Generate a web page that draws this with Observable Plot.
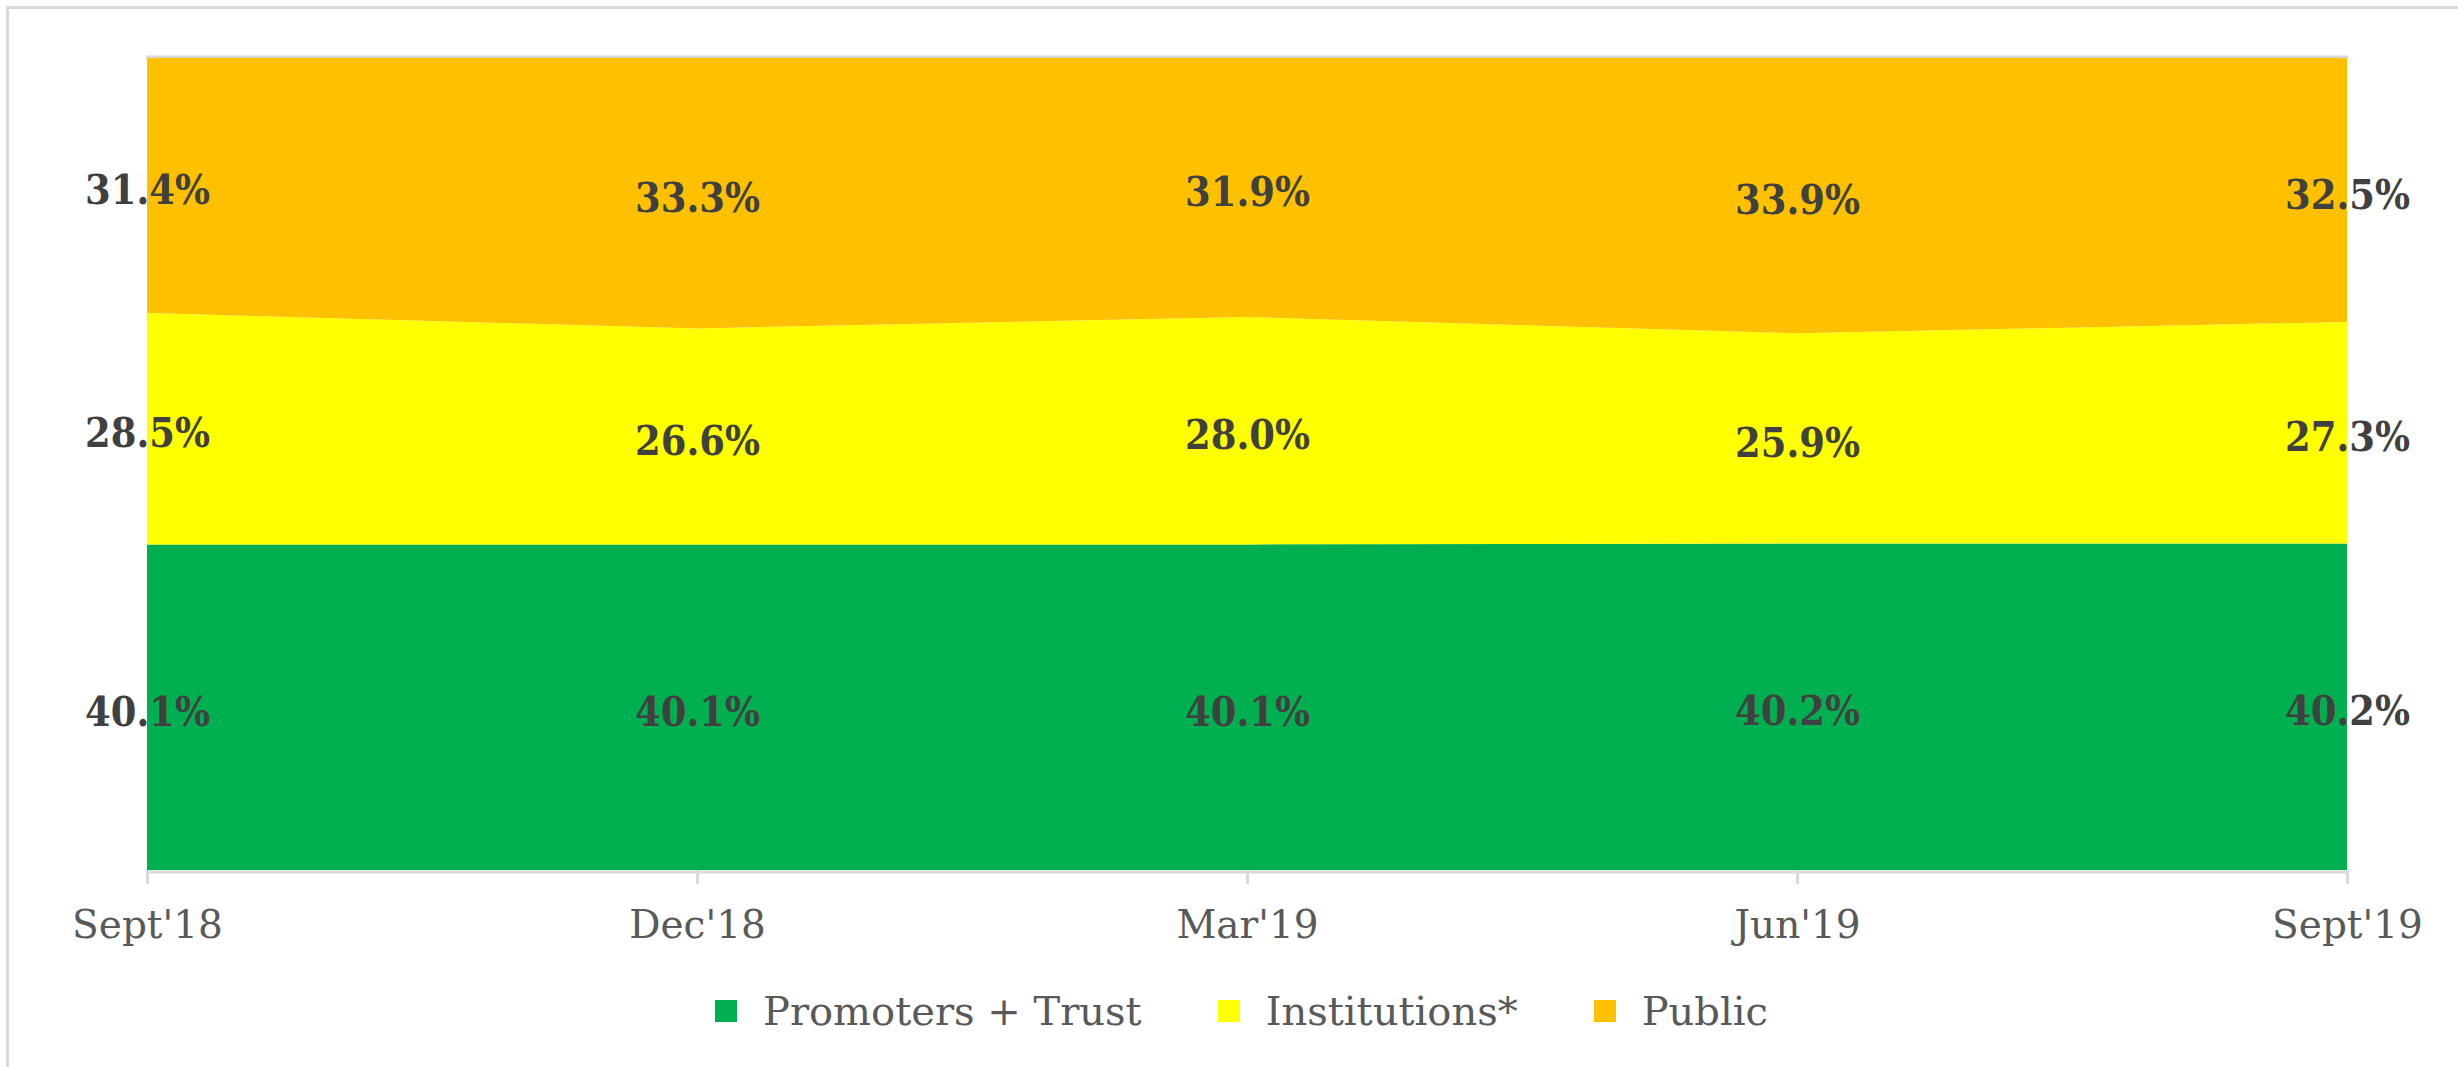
<!DOCTYPE html>
<html>
<head>
<meta charset="utf-8">
<script src="https://cdn.jsdelivr.net/npm/d3@7"></script>
<script src="https://cdn.jsdelivr.net/npm/@observablehq/plot@0.6"></script>
<style>
  html, body { margin: 0; padding: 0; background: #fff; }
  #wrap { position: absolute; left: 0; top: 0; width: 2458px; height: 1067px; overflow: hidden; background: #fff; }
  #frame { position: absolute; left: 6px; top: 6px; width: 2470px; height: 1080px; border-left: 3px solid #D9D9D9; border-top: 3px solid #D9D9D9; box-sizing: border-box; }
  #chart { position: absolute; left: 0; top: 0; }
  #legend { position: absolute; left: 715px; top: 991px; display: flex; align-items: center; font-family: "DejaVu Serif", serif; font-size: 40px; line-height: 1; color: #595959; }
  .item { display: flex; align-items: center; margin-right: 76px; }
  .sw { width: 22px; height: 22px; margin-right: 26px; display: inline-block; }
</style>
</head>
<body>
<div id="wrap">
  <div id="frame"></div>
  <div id="chart"></div>
  <div id="legend"></div>
</div>
<script>
const periods = ["Sept'18", "Dec'18", "Mar'19", "Jun'19", "Sept'19"];
const seriesNames = ["Promoters + Trust", "Institutions*", "Public"];
const promoters = [40.1, 40.1, 40.1, 40.2, 40.2];
const institutions = [28.5, 26.6, 28.0, 25.9, 27.3];
const publicShare = [31.4, 33.3, 31.9, 33.9, 32.5];
const colors = ["#00B050", "#FFFF00", "#FFC000"];

const seriesValues = [promoters, institutions, publicShare];
const data = [];
seriesNames.forEach((s, si) => {
  periods.forEach((p, pi) => {
    data.push({period: p, series: s, value: seriesValues[si][pi] / 100});
  });
});

const plot = Plot.plot({
  width: 2458,
  height: 970,
  marginLeft: 146,
  marginRight: 110,
  marginTop: 58,
  marginBottom: 100,
  style: {fontFamily: "DejaVu Serif", background: "transparent", overflow: "visible"},
  x: {type: "point", domain: periods, padding: 0, label: null},
  y: {domain: [0, 1], axis: null},
  color: {domain: seriesNames, range: colors},
  marks: [
    Plot.ruleY([1], {stroke: "#D9D9D9", strokeWidth: 3, dy: -1.5}),
    Plot.areaY(data, {x: "period", y: "value", fill: "series", order: seriesNames, curve: "linear"}),
    Plot.ruleY([0], {stroke: "#D9D9D9", strokeWidth: 3, dy: 1.5}),
    Plot.axisX({tickSize: 14, tickPadding: 26, fontSize: 39, stroke: "#D9D9D9", strokeWidth: 3, fill: "#595959", label: null}),
    Plot.text(data, Plot.stackY({
      x: "period", y: "value", z: "series", order: seriesNames,
      text: d => (d.value * 100).toFixed(1) + "%",
      fontSize: 41, fontWeight: "bold", fill: "#404040", dy: 5,
      fontFamily: "DejaVu Serif Condensed, DejaVu Serif"
    }))
  ]
});
d3.select(plot).selectAll("g[aria-label='text'] text").style("font-stretch", "condensed");
document.getElementById("chart").appendChild(plot);

const legend = d3.select("#legend");
seriesNames.forEach((s, i) => {
  const it = legend.append("div").attr("class", "item");
  it.append("span").attr("class", "sw").style("background", colors[i]);
  it.append("span").text(s);
});
</script>
</body>
</html>
